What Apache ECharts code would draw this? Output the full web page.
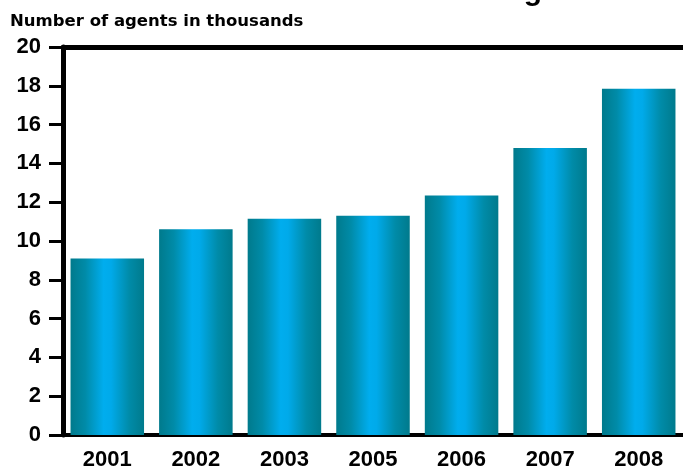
<!DOCTYPE html>
<html>
<head>
<meta charset="utf-8">
<script src="https://cdn.jsdelivr.net/npm/echarts@6/dist/echarts.min.js"></script>
<style>html,body{margin:0;padding:0;background:#fff;}#c{width:683px;height:471px;}</style>
</head>
<body>
<div id="c"></div>
<script>
var categories = ['2001', '2002', '2003', '2005', '2006', '2007', '2008'];
var agents = [9.1, 10.6, 11.15, 11.3, 12.35, 14.8, 17.85];
var yTicks = [0, 2, 4, 6, 8, 10, 12, 14, 16, 18, 20];

var chart = echarts.init(document.getElementById('c'));
var FONT = 'Liberation Sans, Arial, Helvetica, sans-serif';
var barGrad = new echarts.graphic.LinearGradient(0, 0, 1, 0, [
  {offset: 0, color: '#007a8c'},
  {offset: 0.2, color: '#008ba8'},
  {offset: 0.45, color: '#00adee'},
  {offset: 0.55, color: '#00aaea'},
  {offset: 0.8, color: '#008ba8'},
  {offset: 1, color: '#007a8c'}
]);
chart.setOption({
  animation: false,
  backgroundColor: '#fff',
  graphic: [
    {type: 'text', left: 10, top: 13, style: {text: 'Number of agents in thousands', font: 'bold 16.5px DejaVu Sans, sans-serif', fill: '#000'}},
    {type: 'text', x: 302, y: -23, style: {text: 'Border Patrol Agents', font: 'bold 30px ' + FONT, fill: '#000', textVerticalAlign: 'top'}}
  ],
  grid: {left: 63, right: -4, top: 47, bottom: 31, containLabel: false},
  xAxis: [{
    type: 'category',
    data: categories,
    axisLine: {show: true, lineStyle: {color: '#000', width: 4}},
    axisTick: {show: false},
    axisLabel: {color: '#000', fontWeight: 'bold', fontSize: 22, fontFamily: FONT, margin: 14}
  }, {
    type: 'category',
    position: 'top',
    data: categories,
    axisLine: {show: true, lineStyle: {color: '#000', width: 5}},
    axisTick: {show: false},
    axisLabel: {show: false}
  }],
  yAxis: {
    type: 'value',
    min: yTicks[0],
    max: yTicks[yTicks.length - 1],
    interval: 2,
    axisLine: {show: true, lineStyle: {color: '#000', width: 5}},
    axisTick: {show: true, inside: false, length: 14, lineStyle: {color: '#000', width: 3}},
    axisLabel: {color: '#000', fontWeight: 'bold', fontSize: 22, fontFamily: FONT, margin: 22},
    splitLine: {show: false}
  },
  series: [{
    type: 'bar',
    data: agents,
    barCategoryGap: '17%',
    itemStyle: {color: barGrad}
  }]
});
</script>
</body>
</html>
